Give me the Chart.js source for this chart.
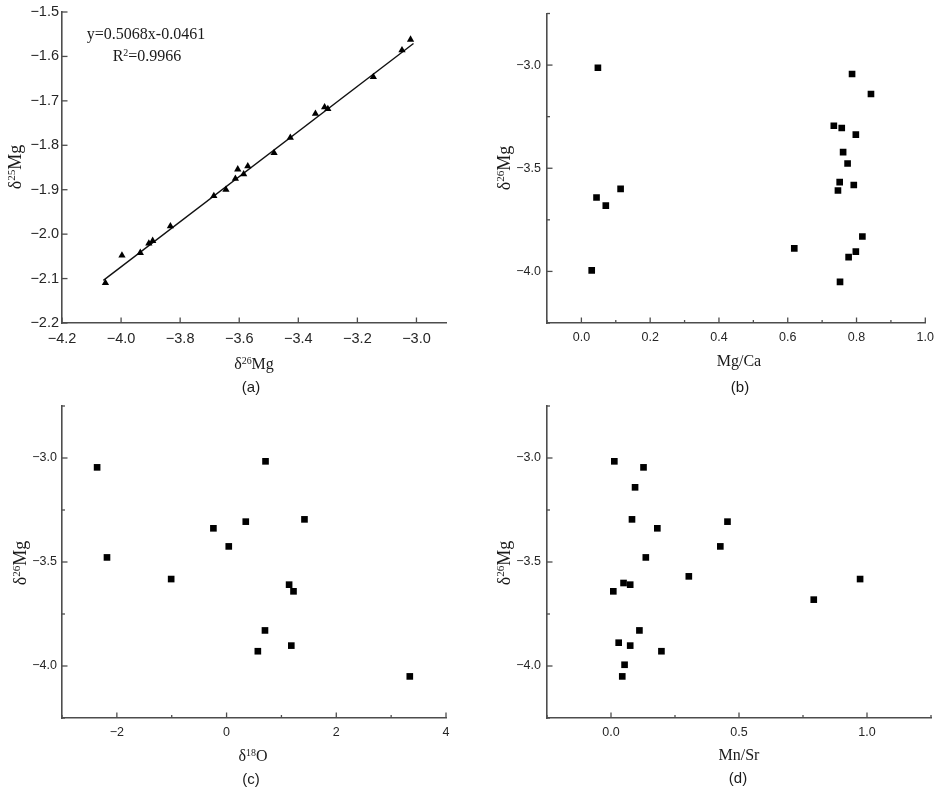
<!DOCTYPE html>
<html lang="en">
<head>
<meta charset="UTF-8">
<title>δ26Mg cross plots</title>
<script src="https://cdn.jsdelivr.net/npm/chart.js"></script>
<style>
    body { margin: 0; background: #fff; }
    #page { position: relative; width: 941px; height: 790px; overflow: hidden; }
    #page canvas { position: absolute; display: block; }
    .lbl {
        position: absolute;
        transform: translate(-50%, -50%);
        font-family: "Liberation Serif", "Times New Roman", serif;
        font-size: 16px;
        color: #1a1a1a;
        white-space: nowrap;
        line-height: 1;
    }
    .lbl sup { font-size: 0.62em; position: relative; top: -0.5em; vertical-align: baseline; }
    .rot { transform: translate(-50%, -50%) rotate(-90deg); font-size: 18px; }
    .tag { font-family: "Liberation Sans", Arial, sans-serif; font-size: 15px; }
</style>
</head>
<body>
<div id="page">
    <canvas id="chartA" width="470" height="390" style="left:0;top:0"></canvas>
    <canvas id="chartB" width="471" height="390" style="left:470px;top:0"></canvas>
    <canvas id="chartC" width="470" height="400" style="left:0;top:390px"></canvas>
    <canvas id="chartD" width="471" height="400" style="left:470px;top:390px"></canvas>

    <!-- (a) -->
    <div class="lbl" style="left:146px;top:34px">y=0.5068x-0.0461</div>
    <div class="lbl" style="left:147px;top:56px">R<sup>2</sup>=0.9966</div>
    <div class="lbl" style="left:254px;top:364px">δ<sup>26</sup>Mg</div>
    <div class="lbl rot" style="left:15px;top:167px">δ<sup>25</sup>Mg</div>
    <div class="lbl tag" style="left:251px;top:386px">(a)</div>
    <!-- (b) -->
    <div class="lbl" style="left:739px;top:361px">Mg/Ca</div>
    <div class="lbl rot" style="left:504px;top:168px">δ<sup>26</sup>Mg</div>
    <div class="lbl tag" style="left:740px;top:386px">(b)</div>
    <!-- (c) -->
    <div class="lbl" style="left:253px;top:756px">δ<sup>18</sup>O</div>
    <div class="lbl rot" style="left:20px;top:563px">δ<sup>26</sup>Mg</div>
    <div class="lbl tag" style="left:251px;top:778px">(c)</div>
    <!-- (d) -->
    <div class="lbl" style="left:739px;top:755px">Mn/Sr</div>
    <div class="lbl rot" style="left:504px;top:563px">δ<sup>26</sup>Mg</div>
    <div class="lbl tag" style="left:738px;top:777px">(d)</div>
</div>

<script>
    // (a) δ26Mg vs δ25Mg
    const d26Mg_a = [-4.053, -3.997, -3.935, -3.906, -3.893, -3.833, -3.686, -3.645, -3.613, -3.605,
                     -3.585, -3.571, -3.482, -3.427, -3.342, -3.311, -3.300, -3.146, -3.049, -3.020];
    const d25Mg_a = [-2.110, -2.048, -2.042, -2.021, -2.015, -1.982, -1.914, -1.900, -1.875, -1.854,
                     -1.865, -1.847, -1.817, -1.783, -1.729, -1.714, -1.718, -1.646, -1.586, -1.562];
    // regression line end points (y=0.5068x-0.0461)
    const fitX = [-4.06, -3.01];
    const fitY = [-2.104, -1.571];

    // (b) Mg/Ca vs δ26Mg
    const mgCa = [0.048, 0.787, 0.842, 0.734, 0.757, 0.798, 0.761, 0.774, 0.751, 0.792,
                  0.746, 0.114, 0.044, 0.071, 0.817, 0.619, 0.798, 0.777, 0.030, 0.752];
    const d26Mg_b = [-3.013, -3.043, -3.140, -3.294, -3.305, -3.337, -3.422, -3.477, -3.567, -3.581,
                     -3.608, -3.600, -3.642, -3.681, -3.831, -3.888, -3.904, -3.931, -3.995, -4.051];

    // (c) δ18O vs δ26Mg
    const d18O = [-2.36, 0.71, -2.18, -0.24, 0.35, 1.42, 0.04, -1.01, 1.14, 1.22, 0.70, 1.18, 0.57, 3.34];
    const d26Mg_c = [-3.045, -3.016, -3.478, -3.338, -3.306, -3.295, -3.425, -3.582, -3.609, -3.641,
                     -3.829, -3.902, -3.929, -4.050];

    // (d) Mn/Sr vs δ26Mg
    const mnSr = [0.013, 0.127, 0.094, 0.082, 0.181, 0.455, 0.427, 0.136, 0.304, 0.973,
                  0.049, 0.075, 0.009, 0.792, 0.111, 0.030, 0.075, 0.197, 0.053, 0.044];
    const d26Mg_d = [-3.016, -3.045, -3.141, -3.295, -3.338, -3.306, -3.425, -3.478, -3.569, -3.582,
                     -3.601, -3.609, -3.641, -3.681, -3.829, -3.888, -3.902, -3.929, -3.994, -4.050];

    // tick values
    const ticksA_x = [-4.2, -4.0, -3.8, -3.6, -3.4, -3.2, -3.0];
    const ticksA_y = [-2.2, -2.1, -2.0, -1.9, -1.8, -1.7, -1.6, -1.5];
    const ticksMg26 = [-4.0, -3.5, -3.0];
    const minorMg26 = [-4.25, -3.75, -3.25, -2.75];
    const ticksB_x = [0.0, 0.2, 0.4, 0.6, 0.8, 1.0];
    const minorB_x = [-0.1, 0.1, 0.3, 0.5, 0.7, 0.9];
    const ticksC_x = [-2, 0, 2, 4];
    const minorC_x = [-3, -1, 1, 3];
    const ticksD_x = [0.0, 0.5, 1.0];
    const minorD_x = [-0.25, 0.25, 0.75, 1.25];

    const axisColor = '#4d4d4d';

    const pts = (xs, ys) => xs.map((v, i) => ({ x: v, y: ys[i] }));
    const fmt = digits => v => Number(v).toFixed(digits).replace('-', '\u2212');

    // ticks pointing into the plot area
    const innerTicks = {
        id: 'innerTicks',
        afterDraw(chart, args, o) {
            const { ctx, chartArea: a, scales: { x, y } } = chart;
            ctx.save();
            ctx.strokeStyle = axisColor;
            ctx.lineWidth = 1.3;
            const mark = (vals, len, axis) => (vals || []).forEach(v => {
                ctx.beginPath();
                if (axis === 'x') {
                    const p = x.getPixelForValue(v);
                    ctx.moveTo(p, a.bottom);
                    ctx.lineTo(p, a.bottom - len);
                } else {
                    const p = y.getPixelForValue(v);
                    ctx.moveTo(a.left, p);
                    ctx.lineTo(a.left + len, p);
                }
                ctx.stroke();
            });
            mark(o.xMajor, 5.5, 'x');
            mark(o.xMinor, 3, 'x');
            mark(o.yMajor, 5.5, 'y');
            mark(o.yMinor, 3, 'y');
            ctx.restore();
        }
    };

    function makeOptions(c) {
        const tickFont = { family: '"Liberation Sans", Arial, sans-serif', size: c.fontSize };
        return {
            responsive: false,
            animation: false,
            layout: { padding: { top: c.padTop, right: c.padRight, left: 0, bottom: 0 } },
            plugins: {
                legend: { display: false },
                tooltip: { enabled: false },
                innerTicks: { xMajor: c.xTicks, xMinor: c.xMinor, yMajor: c.yTicks, yMinor: c.yMinor }
            },
            scales: {
                x: {
                    type: 'linear',
                    min: c.xRange[0],
                    max: c.xRange[1],
                    afterBuildTicks: s => { s.ticks = c.xTicks.map(v => ({ value: v })); },
                    afterFit: s => { s.height = c.xHeight; },
                    grid: { display: false, drawTicks: false },
                    border: { color: axisColor, width: 1.6 },
                    ticks: { font: tickFont, color: '#262626', padding: 7, maxRotation: 0, autoSkip: false,
                             callback: fmt(c.xDigits) }
                },
                y: {
                    type: 'linear',
                    min: c.yRange[0],
                    max: c.yRange[1],
                    afterBuildTicks: s => { s.ticks = c.yTicks.map(v => ({ value: v })); },
                    afterFit: s => { s.width = c.yWidth; },
                    grid: { display: false, drawTicks: false },
                    border: { color: axisColor, width: 1.6 },
                    ticks: { font: tickFont, color: '#262626', padding: c.yPad, autoSkip: false,
                             callback: fmt(1) }
                }
            }
        };
    }

    const squares = data => ({
        data: data,
        pointStyle: 'rect',
        pointRadius: 4.7,
        backgroundColor: '#000',
        borderWidth: 0
    });

    new Chart(document.getElementById('chartA'), {
        type: 'scatter',
        data: {
            datasets: [
                {
                    data: pts(d26Mg_a, d25Mg_a),
                    pointStyle: 'triangle',
                    pointRadius: 4.2,
                    backgroundColor: '#000',
                    borderWidth: 0,
                    order: 1
                },
                {
                    type: 'line',
                    data: pts(fitX, fitY),
                    borderColor: '#111',
                    borderWidth: 1.4,
                    pointRadius: 0,
                    fill: false,
                    order: 2
                }
            ]
        },
        options: makeOptions({
            xRange: [-4.2, -2.9], yRange: [-2.2, -1.5],
            xTicks: ticksA_x, yTicks: ticksA_y, xDigits: 1, fontSize: 14.5,
            padTop: 12, padRight: 24, xHeight: 67, yWidth: 62, yPad: 3
        }),
        plugins: [innerTicks]
    });

    new Chart(document.getElementById('chartB'), {
        type: 'scatter',
        data: { datasets: [squares(pts(mgCa, d26Mg_b))] },
        options: makeOptions({
            xRange: [-0.1, 1.0], yRange: [-4.25, -2.75],
            xTicks: ticksB_x, xMinor: minorB_x, yTicks: ticksMg26, yMinor: minorMg26, xDigits: 1, fontSize: 12.5,
            padTop: 12, padRight: 11, xHeight: 67, yWidth: 77, yPad: 6
        }),
        plugins: [innerTicks]
    });

    new Chart(document.getElementById('chartC'), {
        type: 'scatter',
        data: { datasets: [squares(pts(d18O, d26Mg_c))] },
        options: makeOptions({
            xRange: [-3, 4], yRange: [-4.25, -2.75],
            xTicks: ticksC_x, xMinor: minorC_x, yTicks: ticksMg26, yMinor: minorMg26, xDigits: 0, fontSize: 12.5,
            padTop: 16, padRight: 24, xHeight: 72, yWidth: 62, yPad: 5
        }),
        plugins: [innerTicks]
    });

    new Chart(document.getElementById('chartD'), {
        type: 'scatter',
        data: { datasets: [squares(pts(mnSr, d26Mg_d))] },
        options: makeOptions({
            xRange: [-0.25, 1.25], yRange: [-4.25, -2.75],
            xTicks: ticksD_x, xMinor: minorD_x, yTicks: ticksMg26, yMinor: minorMg26, xDigits: 1, fontSize: 12.5,
            padTop: 16, padRight: 10, xHeight: 72, yWidth: 77, yPad: 6
        }),
        plugins: [innerTicks]
    });
</script>
</body>
</html>
